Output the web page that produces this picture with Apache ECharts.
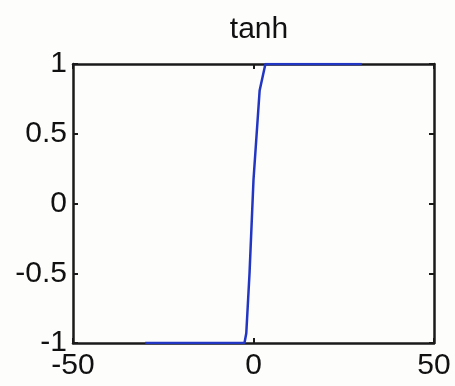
<!DOCTYPE html>
<html>
<head>
<meta charset="utf-8">
<script src="https://cdn.jsdelivr.net/npm/echarts@6/dist/echarts.min.js"></script>
<style>
  html, body { margin: 0; padding: 0; background: #fdfdfc; }
  #chart { width: 455px; height: 386px; }
</style>
</head>
<body>
<div id="chart"></div>
<script>
// tanh activation sampled over [-30, 30]
const xValues = [-30, -2.5, -2, -1.1, 0, 1.7, 3.3, 30];
const yValues = [-1, -1, -0.93, -0.5, 0.17, 0.81, 1, 1];

const xTicks = [-50, 0, 50];
const yTicks = [-1, -0.5, 0, 0.5, 1];
const titleText = 'tanh';

const points = xValues.map((x, i) => [x, yValues[i]]);

const fontFamily = 'Liberation Sans, Arial, sans-serif';
const frameColor = '#1a1a1a';

const chart = echarts.init(document.getElementById('chart'), null, { renderer: 'canvas' });

const labelStyle = { color: '#111', fontSize: 30, fontFamily: fontFamily };

function frameAxis(extra) {
  return Object.assign({
    type: 'value',
    axisLine: { show: true, onZero: false, lineStyle: { color: frameColor, width: 2.5 } },
    axisTick: { show: true, inside: true, length: 5, lineStyle: { color: frameColor, width: 2 } },
    axisLabel: { show: false },
    splitLine: { show: false }
  }, extra);
}

const xRange = { min: xTicks[0], max: xTicks[xTicks.length - 1], interval: xTicks[1] - xTicks[0] };
const yRange = { min: yTicks[0], max: yTicks[yTicks.length - 1], interval: yTicks[1] - yTicks[0] };

chart.setOption({
  backgroundColor: '#fdfdfc',
  animation: false,
  title: {
    text: titleText,
    left: 254,
    top: 10,
    textAlign: 'center',
    textStyle: { color: '#111', fontSize: 30, fontWeight: 'normal', fontFamily: fontFamily }
  },
  grid: { left: 73, right: 21, top: 64, bottom: 43, show: false },
  xAxis: [
    frameAxis(Object.assign({ position: 'bottom', axisLabel: Object.assign({ show: true, margin: 8 }, labelStyle) }, xRange)),
    frameAxis(Object.assign({ position: 'top' }, xRange))
  ],
  yAxis: [
    frameAxis(Object.assign({ position: 'left', axisLabel: Object.assign({ show: true, margin: 6 }, labelStyle) }, yRange)),
    frameAxis(Object.assign({ position: 'right' }, yRange))
  ],
  series: [
    {
      type: 'line',
      xAxisIndex: 0,
      yAxisIndex: 0,
      data: points,
      showSymbol: false,
      smooth: false,
      lineStyle: { color: '#2236c4', width: 2.5 },
      z: 5
    }
  ]
});
</script>
</body>
</html>
